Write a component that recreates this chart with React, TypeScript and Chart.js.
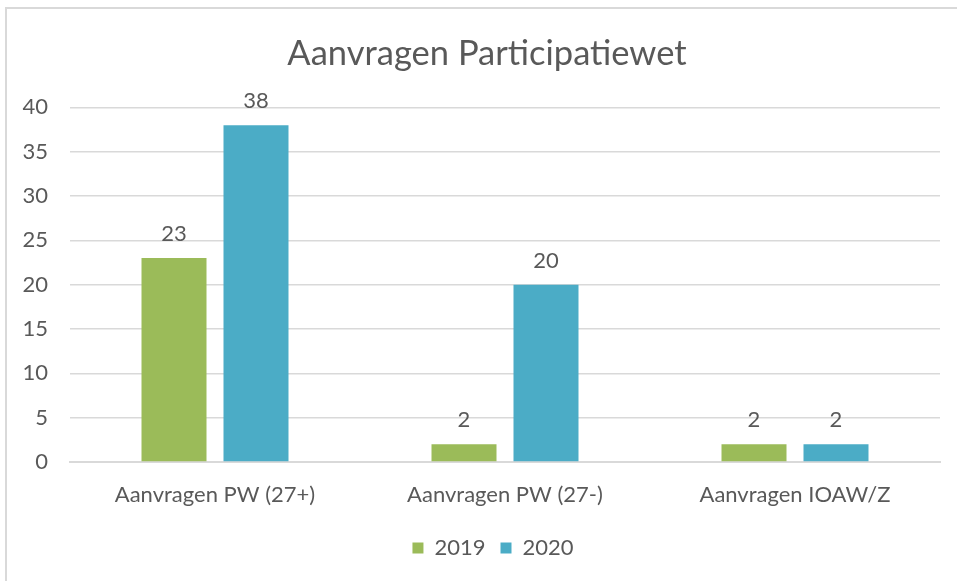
import React, { useEffect, useRef } from "react";
import { Chart, registerables } from "chart.js";

Chart.register(...registerables);

const categories = ["Aanvragen PW (27+)", "Aanvragen PW (27-)", "Aanvragen IOAW/Z"];
const series2019 = [23, 2, 2];
const series2020 = [38, 20, 2];
const seriesNames = ["2019", "2020"];
const titleText = "Aanvragen Participatiewet";
const yMin = 0;
const yMax = 40;
const yStep = 5;

const FONT = "Lato, 'Open Sans', sans-serif";
const TEXT = "#595959";
const GREEN = "#9BBB59";
const BLUE = "#4BACC6";
const GRID = "#D9D9D9";

const dataLabels = {
  id: "dataLabels",
  afterDatasetsDraw(chart: any) {
    const ctx = chart.ctx;
    ctx.save();
    ctx.font = `22px ${FONT}`;
    ctx.fillStyle = TEXT;
    ctx.textAlign = "center";
    ctx.textBaseline = "alphabetic";
    chart.data.datasets.forEach((ds: any, i: number) => {
      const meta = chart.getDatasetMeta(i);
      meta.data.forEach((el: any, j: number) => {
        ctx.fillText(String(ds.data[j]), el.x, el.y - 17);
      });
    });
    ctx.restore();
  },
};

// Centre title and legend over the region right of the y labels, as in the reference
const shiftBlocks = {
  id: "shiftBlocks",
  beforeDraw(chart: any) {
    if (chart.titleBlock) chart.titleBlock.left = 34;
    if (chart.legend) chart.legend.left = 46;
  },
};

export default function App() {
  const ref = useRef<HTMLCanvasElement>(null);

  useEffect(() => {
    if (!ref.current) return;
    const chart = new Chart(ref.current, {
      type: "bar",
      data: {
        labels: categories,
        datasets: [
          {
            label: seriesNames[0],
            data: series2019,
            backgroundColor: GREEN,
            categoryPercentage: 0.5655,
            barPercentage: 0.7927,
          },
          {
            label: seriesNames[1],
            data: series2020,
            backgroundColor: BLUE,
            categoryPercentage: 0.5655,
            barPercentage: 0.7927,
          },
        ],
      },
      options: {
        responsive: false,
        animation: false,
        devicePixelRatio: 1,
        layout: { padding: { left: 0, right: 17, top: 0, bottom: 12 } },
        plugins: {
          title: {
            display: true,
            text: titleText,
            color: TEXT,
            font: { family: FONT, size: 34.5, weight: "normal" },
            padding: { top: 33, bottom: 33 },
          },
          legend: {
            display: true,
            position: "bottom",
            labels: {
              color: TEXT,
              font: { family: FONT, size: 22 },
              boxWidth: 11,
              boxHeight: 11,
              padding: 15,
            },
          },
          tooltip: { enabled: false },
        },
        scales: {
          x: {
            grid: { display: false, drawTicks: false },
            border: { display: true, color: GRID, width: 2 },
            ticks: {
              color: TEXT,
              font: { family: FONT, size: 22 },
              padding: 20,
              maxRotation: 0,
              autoSkip: false,
            },
            afterFit: (scale: any) => {
              scale.height = 60;
            },
          },
          y: {
            min: yMin,
            max: yMax,
            grid: { color: GRID, lineWidth: 1.5, drawTicks: false },
            border: { display: false },
            ticks: {
              stepSize: yStep,
              color: TEXT,
              font: { family: FONT, size: 22 },
              padding: 22,
            },
            afterFit: (scale: any) => {
              scale.width = 70;
            },
          },
        },
      },
      plugins: [dataLabels, shiftBlocks],
    });
    return () => chart.destroy();
  }, []);

  return (
    <div
      style={{
        position: "fixed",
        left: 0,
        top: 0,
        width: 957,
        height: 581,
        overflow: "hidden",
        background: "#fff",
      }}
    >
      <canvas ref={ref} width={957} height={581} style={{ position: "absolute", left: 0, top: 0 }} />
      <div
        style={{
          position: "absolute",
          left: 5,
          top: 7,
          width: 1000,
          height: 1000,
          borderLeft: "2px solid #D9D9D9",
          borderTop: "2px solid #D9D9D9",
          pointerEvents: "none",
        }}
      />
    </div>
  );
}
